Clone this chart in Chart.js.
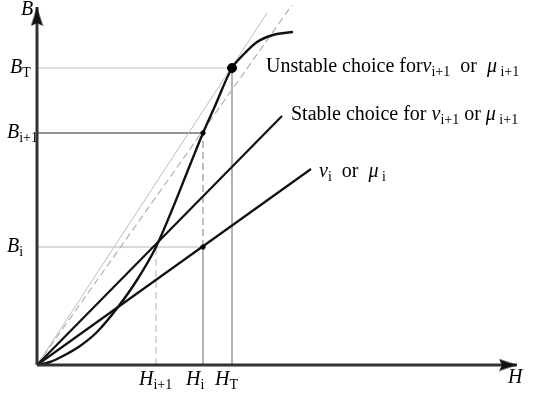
<!DOCTYPE html>
<html>
<head>
<meta charset="utf-8">
<script src="https://cdn.jsdelivr.net/npm/chart.js@4"></script>
<style>
  html, body { margin: 0; padding: 0; background: #fff; }
  #c { display: block; }
</style>
</head>
<body>
<canvas id="c" width="541" height="394"></canvas>
<script>
// B(H) curve
const curveH = [0, 0.13, 0.26, 0.43, 0.60, 0.81, 1.00, 1.19, 1.35, 1.53, 1.66, 1.78, 1.95, 2.08, 2.20, 2.36, 2.56];
const curveB = [0, 0.03, 0.09, 0.19, 0.33, 0.58, 0.85, 1.18, 1.55, 2.00, 2.32, 2.59, 2.97, 3.12, 3.23, 3.30, 3.33];

// marked levels on the axes
const hLevels = [1.19, 1.66, 1.95];      // H_{i+1}, H_i, H_T
const hSubs = ['i+1', 'i', 'T'];
const bLevels = [1.18, 2.32, 2.97];      // B_i, B_{i+1}, B_T
const bSubs = ['i', 'i+1', 'T'];

// straight lines from the origin, end points [H, B]
const nuLine = [2.74, 1.96];
const stableLine = [2.45, 2.49];
const unstableLine = [2.30, 3.52];
const tangentLine = [2.55, 3.60];

// axis ends (arrow tips)
const hMax = 4.80;
const bMax = 3.58;

const serif = '"Liberation Serif", "Times New Roman", serif';

const xy = (h, b) => ({ x: h, y: b });
const curve = curveH.map((h, i) => xy(h, curveB[i]));

function arrowImg(horizontal) {
  const cv = document.createElement('canvas');
  const g = cv.getContext('2d');
  if (horizontal) {
    cv.width = 40; cv.height = 13;
  } else {
    cv.width = 13; cv.height = 40;
  }
  g.fillStyle = '#111';
  g.beginPath();
  if (horizontal) {
    g.moveTo(20, 6.5); g.lineTo(2, 0.5); g.lineTo(5, 6.5); g.lineTo(2, 12.5);
  } else {
    g.moveTo(6.5, 20); g.lineTo(0.5, 39); g.lineTo(6.5, 36); g.lineTo(12.5, 39);
  }
  g.closePath();
  g.fill();
  return cv;
}
const arrowH = arrowImg(true);
const arrowV = arrowImg(false);

function seg(data, color, width, dash) {
  return {
    data: data, showLine: true, borderColor: color, borderWidth: width,
    borderDash: dash || [], pointRadius: 0, fill: false
  };
}

const datasets = [
  // dots
  {
    data: [xy(hLevels[2], bLevels[2])], pointRadius: 4.5,
    backgroundColor: '#000', borderColor: '#000', showLine: false
  },
  {
    data: [xy(hLevels[1], bLevels[1]), xy(hLevels[1], bLevels[0])], pointRadius: 2.2,
    backgroundColor: '#000', borderColor: '#000', showLine: false
  },
  // axes
  Object.assign(seg([xy(0, 0), xy(hMax, 0)], '#333', 3), {
    pointRadius: [0, 1], pointStyle: ctx => ctx.dataIndex === 1 ? arrowH : 'circle'
  }),
  Object.assign(seg([xy(0, 0), xy(0, bMax)], '#333', 3), {
    pointRadius: [0, 1], pointStyle: ctx => ctx.dataIndex === 1 ? arrowV : 'circle'
  }),
  // curve and chosen lines
  Object.assign(seg(curve, '#111', 2.4), { cubicInterpolationMode: 'monotone' }),
  seg([xy(0, 0), xy(nuLine[0], nuLine[1])], '#111', 2.2),
  seg([xy(0, 0), xy(stableLine[0], stableLine[1])], '#111', 2.2),
  // gray guides
  seg([xy(0, 0), xy(unstableLine[0], unstableLine[1])], '#bdbdbd', 1),
  seg([xy(0, 0), xy(tangentLine[0], tangentLine[1])], '#b0b0b0', 1.2, [7, 4]),
  seg([xy(0, bLevels[2]), xy(hLevels[2], bLevels[2])], '#c4c4c4', 1.2),
  seg([xy(0, bLevels[1]), xy(hLevels[1], bLevels[1])], '#707070', 1.6),
  seg([xy(0, bLevels[0]), xy(hLevels[1], bLevels[0])], '#b5b5b5', 1.2),
  seg([xy(hLevels[2], 0), xy(hLevels[2], bLevels[2])], '#9a9a9a', 1.5),
  seg([xy(hLevels[1], 0), xy(hLevels[1], bLevels[0])], '#9a9a9a', 1.5),
  seg([xy(hLevels[1], bLevels[0]), xy(hLevels[1], bLevels[1])], '#aaaaaa', 1.5, [7, 4]),
  seg([xy(hLevels[0], 0), xy(hLevels[0], bLevels[0])], '#cccccc', 1.5, [7, 4])
];

// text pieces: [text, italic, subscript]
const lineLabels = [
  { at: [2.29, 2.93], parts: [['Unstable choice for', 0, 0], ['\u03bd', 1, 0], ['i+1', 0, 1], ['  or  ', 0, 0], ['\u03bc', 1, 0], [' i+1', 0, 1]] },
  { at: [2.54, 2.45], parts: [['Stable choice for ', 0, 0], ['\u03bd', 1, 0], ['i+1', 0, 1], [' or ', 0, 0], ['\u03bc', 1, 0], [' i+1', 0, 1]] },
  { at: [2.82, 1.88], parts: [['\u03bd', 1, 0], ['i', 0, 1], ['  or  ', 0, 0], ['\u03bc', 1, 0], [' i', 0, 1]] }
];

function drawParts(ctx, x, y, parts) {
  parts.forEach(p => {
    ctx.font = (p[1] ? 'italic ' : '') + (p[2] ? '14px ' : '20px ') + serif;
    ctx.fillText(p[0], x, y + (p[2] ? 4 : 0));
    x += ctx.measureText(p[0]).width;
  });
}

const textPlugin = {
  id: 'texts',
  afterDatasetsDraw(chart) {
    const ctx = chart.ctx;
    const sx = chart.scales.x, sy = chart.scales.y;
    ctx.save();
    ctx.fillStyle = '#000';
    ctx.textBaseline = 'alphabetic';
    // axis names
    drawParts(ctx, sx.getPixelForValue(0) - 16, sy.getPixelForValue(bMax) + 8, [['B', 1, 0]]);
    drawParts(ctx, sx.getPixelForValue(hMax) - 9, sy.getPixelForValue(0) + 18, [['H', 1, 0]]);
    // level names on B axis
    bLevels.forEach((b, i) => {
      const y = sy.getPixelForValue(b) + 5;
      const x = sx.getPixelForValue(0) - (bSubs[i] === 'T' ? 27 : 30);
      drawParts(ctx, x, y, [['B', 1, 0], [bSubs[i], 0, 1]]);
    });
    // level names on H axis
    hLevels.forEach((h, i) => {
      const x = sx.getPixelForValue(h) - 17;
      drawParts(ctx, x, sy.getPixelForValue(0) + 20, [['H', 1, 0], [hSubs[i], 0, 1]]);
    });
    lineLabels.forEach(l => {
      drawParts(ctx, sx.getPixelForValue(l.at[0]), sy.getPixelForValue(l.at[1]), l.parts);
    });
    ctx.restore();
  }
};

new Chart(document.getElementById('c'), {
  type: 'scatter',
  data: { datasets: datasets },
  options: {
    responsive: false,
    animation: false,
    events: [],
    layout: { padding: 0, autoPadding: false },
    plugins: { legend: { display: false }, tooltip: { enabled: false } },
    scales: {
      x: { type: 'linear', min: -0.37, max: 5.04, display: false },
      y: { type: 'linear', min: -0.29, max: 3.65, display: false }
    }
  },
  plugins: [textPlugin]
});
</script>
</body>
</html>
